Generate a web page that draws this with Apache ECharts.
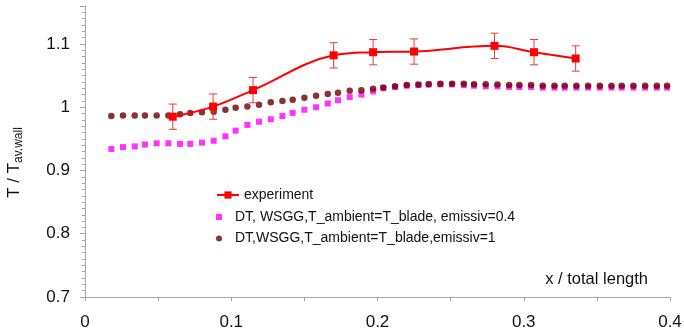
<!DOCTYPE html>
<html><head><meta charset="utf-8">
<script src="https://cdn.jsdelivr.net/npm/echarts@6/dist/echarts.min.js"></script>
<style>html,body{margin:0;padding:0;background:#fff}#c{width:684px;height:334px}</style>
</head><body><div id="c"></div>
<script>
// Simulation x positions (x / total length)
const simX = [0.018,0.026,0.034,0.041,0.049,0.057,0.065,0.072,0.080,0.088,
  0.096,0.103,0.111,0.119,0.127,0.135,0.142,0.150,0.158,0.166,
  0.173,0.181,0.189,0.197,0.204,0.212,0.220,0.228,0.235,0.243,
  0.251,0.259,0.266,0.274,0.282,0.290,0.297,0.305,0.313,0.321,
  0.328,0.336,0.344,0.352,0.360,0.367,0.375,0.383,0.391,0.398];
// DT, WSGG, T_ambient=T_blade, emissiv=0.4
const dtEmis04 = [0.934,0.937,0.938,0.941,0.943,0.943,0.942,0.942,0.944,0.947,
  0.954,0.963,0.972,0.977,0.981,0.986,0.991,0.996,1.000,1.006,
  1.011,1.016,1.020,1.025,1.030,1.032,1.034,1.035,1.036,1.036,
  1.036,1.035,1.034,1.033,1.033,1.032,1.032,1.032,1.031,1.031,
  1.031,1.031,1.031,1.031,1.031,1.031,1.031,1.031,1.031,1.031];
// DT, WSGG, T_ambient=T_blade, emissiv=1
const dtEmis1 = [0.986,0.987,0.987,0.987,0.987,0.987,0.989,0.991,0.992,0.993,
  0.996,0.999,1.001,1.004,1.008,1.010,1.012,1.015,1.018,1.021,
  1.023,1.026,1.027,1.029,1.031,1.033,1.035,1.036,1.0365,1.037,
  1.037,1.037,1.0365,1.0365,1.036,1.035,1.035,1.035,1.034,1.034,
  1.034,1.034,1.034,1.034,1.034,1.034,1.034,1.034,1.034,1.034];
// experiment
const expX = [0.060,0.0876,0.1149,0.170,0.197,0.225,0.280,0.307,0.3355];
const expY = [0.985,1.001,1.027,1.082,1.087,1.088,1.097,1.087,1.077];
const expErr = [0.02,0.02,0.02,0.02,0.02,0.02,0.02,0.02,0.02];
// tick labels
const xTickLabels = ['0','0.1','0.2','0.3','0.4'];
const yTickLabels = ['0.7','0.8','0.9','1','1.1'];

const names = ['experiment','DT, WSGG,T_ambient=T_blade, emissiv=0.4','DT,WSGG,T_ambient=T_blade,emissiv=1'];
const FONT = '"Liberation Sans", Arial, sans-serif';
const axisGray = '#a6a6a6';

const chart = echarts.init(document.getElementById('c'), null, {renderer:'canvas'});
const legendBase = {orient:'vertical', left:216, padding:0, itemWidth:22, symbolKeepAspect:true,
  textStyle:{fontFamily:FONT, fontSize:14, color:'#111', lineHeight:15}, selectedMode:false};
chart.setOption({
  animation:false,
  backgroundColor:'#fff',
  grid:{left:85, right:14, top:6, bottom:37, containLabel:false, outerBoundsMode:'none'},
  legend:[
    Object.assign({}, legendBase, {top:187.5, itemHeight:9, data:[names[0]]}),
    Object.assign({}, legendBase, {top:209.5, itemHeight:6, data:[{name:names[1], icon:'path://M0,0H10V10H0Z'}]}),
    Object.assign({}, legendBase, {top:231, itemHeight:6, data:[{name:names[2], icon:'circle'}]})
  ],
  xAxis:{type:'value', min:0, max:0.4, interval:0.1,
    name:'x / total length', nameLocation:'end', nameGap:-22,
    nameTextStyle:{fontFamily:FONT, fontSize:16.5, color:'#111', align:'right', verticalAlign:'bottom', padding:[0,0,9,0]},
    axisLine:{show:true, lineStyle:{color:axisGray, width:1}},
    axisTick:{show:true, inside:false, length:4, lineStyle:{color:axisGray}},
    minorTick:{show:true, splitNumber:2, length:4, lineStyle:{color:axisGray}},
    splitLine:{show:false},
    axisLabel:{fontFamily:FONT, fontSize:17, color:'#111', margin:17,
      formatter:v=>{const i=Math.round(v*10); return xTickLabels[i]!==undefined && Math.abs(v*10-i)<1e-6 ? xTickLabels[i] : '';}}
  },
  yAxis:{type:'value', min:0.7, max:1.16, interval:0.1,
    name:'{a|T / T}{b|av.wall}', nameLocation:'middle', nameGap:60, nameRotate:90,
    nameTextStyle:{fontFamily:FONT, color:'#111', padding:[0,22,0,0], rich:{a:{fontFamily:FONT, fontSize:17, color:'#111'}, b:{fontFamily:FONT, fontSize:12, color:'#111', padding:[10,0,0,0]}}},
    axisLine:{show:true, lineStyle:{color:axisGray, width:1}},
    axisTick:{show:true, inside:false, length:5, lineStyle:{color:axisGray}},
    minorTick:{show:true, splitNumber:10, length:3, lineStyle:{color:axisGray}},
    splitLine:{show:false},
    axisLabel:{fontFamily:FONT, fontSize:17, color:'#111', margin:15, showMaxLabel:false,
      formatter:v=>{const i=Math.round((v-0.7)*10); return (Math.abs((v-0.7)*10-i)<1e-6 && yTickLabels[i]!==undefined) ? yTickLabels[i] : '';}}
  },
  series:[
    {name:names[1], type:'scatter', symbol:'rect', symbolSize:6, itemStyle:{color:'#ff00ff'},
      data:simX.map((x,i)=>[x, dtEmis04[i]]), z:2},
    {name:names[2], type:'scatter', symbol:'circle', symbolSize:6.5, itemStyle:{color:'#6e0000'},
      data:simX.map((x,i)=>[x, dtEmis1[i]]), z:3},
    {name:'errbars', type:'custom', z:4, silent:true,
      data:expX.map((x,i)=>[x, expY[i]-expErr[i], expY[i]+expErr[i]]),
      encode:{x:0, y:[1,2]},
      renderItem:(params, api)=>{
        const x=api.value(0), lo=api.value(1), hi=api.value(2);
        const p1=api.coord([x,hi]), p2=api.coord([x,lo]); const w=4;
        const st={stroke:'#ee3a3a', lineWidth:1};
        return {type:'group', children:[
          {type:'line', shape:{x1:p1[0],y1:p1[1],x2:p2[0],y2:p2[1]}, style:st},
          {type:'line', shape:{x1:p1[0]-w,y1:p1[1],x2:p1[0]+w,y2:p1[1]}, style:st},
          {type:'line', shape:{x1:p2[0]-w,y1:p2[1],x2:p2[0]+w,y2:p2[1]}, style:st}
        ]};
      }},
    {name:names[0], type:'line', smooth:0.4, symbol:'rect', symbolSize:8, showSymbol:true,
      lineStyle:{color:'#ff0000', width:2}, itemStyle:{color:'#ff0000'},
      data:expX.map((x,i)=>[x, expY[i]]), z:5}
  ]
});
</script></body></html>
